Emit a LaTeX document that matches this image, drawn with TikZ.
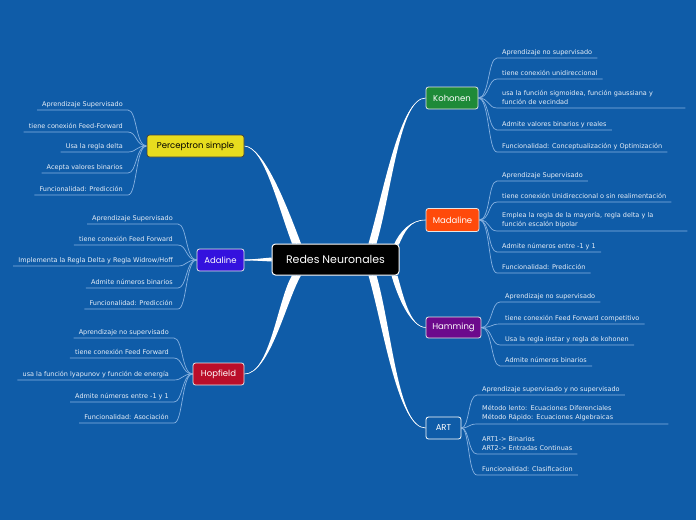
\documentclass[tikz,border=0pt]{standalone}
\usepackage{fontspec}
\setmainfont{DejaVu Sans}
\newfontfamily\headfont{Poppins}
\usetikzlibrary{calc}
\definecolor{bg}{RGB}{15,92,168}
\definecolor{leafline}{RGB}{135,178,225}
\definecolor{leaftext}{RGB}{232,239,248}
\definecolor{percy}{RGB}{232,220,30}
\definecolor{adal}{RGB}{52,18,222}
\definecolor{hopf}{RGB}{186,14,42}
\definecolor{koho}{RGB}{30,138,56}
\definecolor{mada}{RGB}{255,74,10}
\definecolor{hamm}{RGB}{108,10,140}
\pgfdeclarelayer{back}
\pgfdeclarelayer{conn}
\pgfsetlayers{back,conn,main}
\newcommand\trunkcurve[5]{%
  \fill[white] (#1) .. controls (#2) and ($(#3)+(#5,0)$) .. ($(#4)+(#5,0)$)
    -- ($(#4)+(-#5,0)$) .. controls ($(#3)+(-#5,0)$) and (#2) .. (#1) -- cycle;
  \draw[white, line width=0.6pt] (#1) .. controls (#2) and (#3) .. (#4);}
\tikzset{
  leaf/.style={font=\fontsize{6.5}{8.6}\selectfont, text=leaftext, inner xsep=5pt, inner ysep=2.2pt},
  leafL/.style={leaf, anchor=south east, align=right, text depth=1.5pt},
  leafR/.style={leaf, anchor=south west, align=left, text depth=1.5pt},
  multi/.style={text depth={}, inner ysep=3.2pt},
  uline/.style={draw=leafline, line width=0.7pt},
  branch/.style={draw=white!80!gray, line width=0.8pt, rounded corners=2.5pt, text=white,
    font=\headfont\fontsize{8.5}{10}\selectfont, minimum height=22pt, inner sep=0pt},
  centre/.style={fill=black, draw=white, line width=1pt, rounded corners=3.5pt, text=white,
    font=\headfont\fontsize{11}{13}\selectfont, minimum width=127pt, minimum height=31pt, inner sep=0pt},
}
\begin{document}
\begin{tikzpicture}[x=1pt,y=-1pt]
\begin{pgfonlayer}{back}
\fill[bg] (0,0) rectangle (696,520);
\end{pgfonlayer}
\useasboundingbox (0,0) rectangle (696,520);

% main nodes
\node[centre] (root) at (335.5,259.5) {Redes Neuronales};
\node[branch, fill=percy, text=black, draw=black!75, minimum width=97pt] (perc) at (195.5,146) {Perceptron simple};
\node[branch, fill=adal, minimum width=47pt] (adal) at (220.5,260) {Adaline};
\node[branch, fill=hopf, minimum width=51pt] (hopf) at (218.5,374) {Hopfield};
\node[branch, fill=koho, minimum width=52pt] (koho) at (452,98) {Kohonen};
\node[branch, fill=mada, minimum width=53pt, minimum height=23pt] (mada) at (452.5,220) {Madaline};
\node[branch, fill=hamm, minimum width=55pt, minimum height=21pt] (hamm) at (453.5,327.5) {Hamming};
\node[branch, fill=bg, draw=white, minimum width=35pt] (art) at (443.5,428) {ART};

\coordinate (cP) at ($(root.north west)+(25,0)$);
\coordinate (cK) at ($(root.north east)+(-27,0)$);
\coordinate (cM) at ($(root.north east)+(-3,1)$);
\coordinate (cH) at ($(root.south west)+(25,0)$);
\coordinate (cHm) at ($(root.south east)+(-5,0)$);
\coordinate (cA) at ($(root.south east)+(-27,0)$);

\begin{pgfonlayer}{conn}
\trunkcurve{perc.east}{264,147}{282,205}{cP}{4.5}
\trunkcurve{koho.west}{400,98}{388,190}{cK}{4}
\trunkcurve{mada.west}{410,220}{402,232}{cM}{2.5}
\trunkcurve{hopf.east}{270,374}{282,300}{cH}{4.5}
\trunkcurve{hamm.west}{410,327}{400,295}{cHm}{3}
\trunkcurve{art.west}{398,428}{388,330}{cA}{4}
\fill[white] (adal.east) -- ($(root.west)+(0,-2)$) -- ($(root.west)+(0,2)$) -- cycle;
\draw[white, line width=1.2pt] (adal.east) -- (root.west);
\end{pgfonlayer}

% Perceptron leaves
\node[leafL] (p1) at (128,110) {Aprendizaje Supervisado};
\node[leafL] (p2) at (128,132) {tiene conexión Feed-Forward};
\node[leafL] (p3) at (128,152) {Usa la regla delta};
\node[leafL] (p4) at (128,173) {Acepta valores binarios};
\node[leafL] (p5) at (128,195) {Funcionalidad: Predicción};
% Adaline leaves
\node[leafL] (a1) at (178,224) {Aprendizaje Supervisado};
\node[leafL] (a2) at (178,245) {tiene conexión Feed Forward};
\node[leafL] (a3) at (178,266) {Implementa la Regla Delta y Regla Widrow/Hoff};
\node[leafL] (a4) at (178,288) {Admite números binarios};
\node[leafL] (a5) at (178,309) {Funcionalidad: Predicción};
% Hopfield leaves
\node[leafL] (h1) at (174,338) {Aprendizaje no supervisado};
\node[leafL] (h2) at (174,358) {tiene conexión Feed Forward};
\node[leafL] (h3) at (174,380) {usa la función lyapunov y función de energía};
\node[leafL] (h4) at (174,402) {Admite números entre -1 y 1};
\node[leafL] (h5) at (174,423) {Funcionalidad: Asociación};
% Kohonen leaves
\node[leafR] (k1) at (497,58) {Aprendizaje no supervisado};
\node[leafR] (k2) at (497,79) {tiene conexión unidireccional};
\node[leafR, multi, text width=178pt] (k3) at (497,108) {usa la función sigmoidea, función gaussiana y\\función de vecindad};
\node[leafR] (k4) at (497,130) {Admite valores binarios y reales};
\node[leafR] (k5) at (497,152) {Funcionalidad: Conceptualización y Optimización};
% Madaline leaves
\node[leafR] (m1) at (497,181) {Aprendizaje Supervisado};
\node[leafR] (m2) at (497,202) {tiene conexión Unidireccional o sin realimentación};
\node[leafR, multi, text width=180pt] (m3) at (497,231) {Emplea la regla de la mayoría, regla delta y la\\función escalón bipolar};
\node[leafR] (m4) at (497,252) {Admite números entre -1 y 1};
\node[leafR] (m5) at (497,273) {Funcionalidad: Predicción};
% Hamming leaves
\node[leafR] (n1) at (500,302) {Aprendizaje no supervisado};
\node[leafR] (n2) at (500,324) {tiene conexión Feed Forward competitivo};
\node[leafR] (n3) at (500,345) {Usa la regla instar y regla de kohonen};
\node[leafR] (n4) at (500,366) {Admite números binarios};
% ART leaves
\node[leafR] (r1) at (477,395) {Aprendizaje supervisado y no supervisado};
\node[leafR, multi, text width=181pt] (r2) at (477,424) {Método lento: Ecuaciones Diferenciales\\Método Rápido: Ecuaciones Algebraicas};
\node[leafR, multi] (r3) at (477,454) {ART1-> Binarios\\ART2-> Entradas Continuas};
\node[leafR] (r4) at (477,475) {Funcionalidad: Clasificacion};

\begin{pgfonlayer}{conn}
\foreach \n in {p1,p2,p3,p4,p5}
  \draw[uline] (\n.south west) -- (\n.south east) .. controls +(9,0) and +(-11,0) .. (perc.west);
\foreach \n in {a1,a2,a3,a4,a5}
  \draw[uline] (\n.south west) -- (\n.south east) .. controls +(9,0) and +(-11,0) .. (adal.west);
\foreach \n in {h1,h2,h3,h4,h5}
  \draw[uline] (\n.south west) -- (\n.south east) .. controls +(9,0) and +(-11,0) .. (hopf.west);
\foreach \n in {k1,k2,k3,k4,k5}
  \draw[uline] (\n.south east) -- (\n.south west) .. controls +(-9,0) and +(11,0) .. (koho.east);
\foreach \n in {m1,m2,m3,m4,m5}
  \draw[uline] (\n.south east) -- (\n.south west) .. controls +(-9,0) and +(11,0) .. (mada.east);
\foreach \n in {n1,n2,n3,n4}
  \draw[uline] (\n.south east) -- (\n.south west) .. controls +(-9,0) and +(11,0) .. (hamm.east);
\foreach \n in {r1,r2,r3,r4}
  \draw[uline] (\n.south east) -- (\n.south west) .. controls +(-9,0) and +(8,0) .. (art.east);
\end{pgfonlayer}
\end{tikzpicture}
\end{document}
